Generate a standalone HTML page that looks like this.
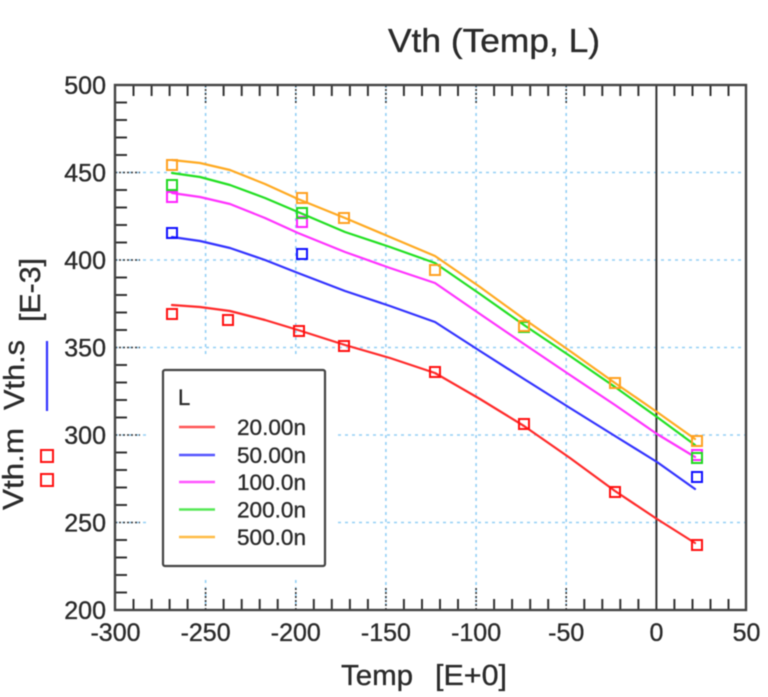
<!DOCTYPE html>
<html><head><meta charset="utf-8"><style>
html,body{margin:0;padding:0;background:#fff;}
svg{display:block;filter:blur(0.5px);}
text{font-family:"Liberation Sans",Arial,sans-serif;fill:#2a2a2a;stroke:#2a2a2a;stroke-width:0.35px;}
</style></head><body>
<svg width="768" height="697" viewBox="0 0 768 697" xmlns="http://www.w3.org/2000/svg">
<rect width="768" height="697" fill="#fff"/>
<text x="494" y="52" font-size="33" text-anchor="middle" textLength="212" lengthAdjust="spacingAndGlyphs">Vth (Temp, L)</text>
<g stroke="#93cff5" stroke-width="1.6" stroke-dasharray="3 4" fill="none">
<path d="M205.6 85V357M205.6 580V610M295.8 85V357M295.8 580V610M385.9 85V610M476.1 85V610M566.2 85V610"/>
<path d="M115 172.5H746M115 260H746M115 347.5H746M115 435H150M338 435H746M115 522.5H150M338 522.5H746"/>
</g>
<g stroke="#333" stroke-width="1.6" stroke-dasharray="2 2" fill="none">
<path d="M115 172.5H140M115 260H140M115 347.5H140M115 435H140M115 522.5H140"/>
<path d="M205.6 85V105M295.8 85V105M385.9 85V105M476.1 85V105M566.2 85V105"/>
<path d="M205.6 610V588M295.8 610V588M385.9 610V588M476.1 610V588M566.2 610V588"/>
</g>
<g stroke="#333" stroke-width="2" fill="none">
<path d="M115 102.5h12M115 120h12M115 137.5h12M115 155h12M115 190h12M115 207.5h12M115 225h12M115 242.5h12M115 277.5h12M115 295h12M115 312.5h12M115 330h12M115 365h12M115 382.5h12M115 400h12M115 417.5h12M115 452.5h12M115 470h12M115 487.5h12M115 505h12M115 540h12M115 557.5h12M115 575h12M115 592.5h12"/>
<path d="M133.5 85v11M151.6 85v11M169.6 85v11M187.6 85v11M223.6 85v11M241.7 85v11M259.7 85v11M277.7 85v11M313.8 85v11M331.8 85v11M349.9 85v11M367.9 85v11M403.9 85v11M422 85v11M440 85v11M458 85v11M494.1 85v11M512.1 85v11M530.2 85v11M548.2 85v11M584.3 85v11M602.3 85v11M620.3 85v11M638.4 85v11M674.4 85v11M692.5 85v11M710.5 85v11M728.5 85v11"/>
<path d="M133.5 610v-11M151.6 610v-11M169.6 610v-11M187.6 610v-11M223.6 610v-11M241.7 610v-11M259.7 610v-11M277.7 610v-11M313.8 610v-11M331.8 610v-11M349.9 610v-11M367.9 610v-11M403.9 610v-11M422 610v-11M440 610v-11M458 610v-11M494.1 610v-11M512.1 610v-11M530.2 610v-11M548.2 610v-11M584.3 610v-11M602.3 610v-11M620.3 610v-11M638.4 610v-11M674.4 610v-11M692.5 610v-11M710.5 610v-11M728.5 610v-11"/>
</g>
<line x1="656.4" y1="85" x2="656.4" y2="610" stroke="#333" stroke-width="2"/>
<rect x="115" y="85" width="631" height="525" fill="none" stroke="#444" stroke-width="2.4"/>
<g fill="none" stroke-width="2.2" stroke-linejoin="round" stroke-linecap="round">
<polyline stroke="#ff2a2a" points="172,305 200,307 230,311 265,320 298,330 345,345 390,358 435,373 480,399 524,426 570,458 615,491 657,519 695,543"/>
<polyline stroke="#3333ff" points="172,237 200,241 230,248 265,260 298,273 345,291 390,306 435,322 480,351 524,379 570,408 615,436 657,462 695,489"/>
<polyline stroke="#ff33ff" points="172,193 200,197 230,204 265,218 298,233 345,252 390,268 435,283 480,314 524,344 570,375 615,405 657,434 695,457"/>
<polyline stroke="#22e022" points="172,173 200,177 230,185 265,198 298,212 345,232 390,247 435,263 480,294 524,325 570,356 615,387 657,417 695,445"/>
<polyline stroke="#ffaa22" points="172,160 200,163 230,170 265,184 298,199 345,218 390,237 435,256 480,287 524,319 570,351 615,383 657,412 695,439"/>
</g>
<g fill="none" stroke-width="2">
<g stroke="#ff1010">
<rect x="167" y="309" width="10" height="10"/><rect x="223" y="315" width="10" height="10"/><rect x="294" y="326" width="10" height="10"/><rect x="339" y="341" width="10" height="10"/><rect x="430" y="367" width="10" height="10"/><rect x="519" y="419" width="10" height="10"/><rect x="610" y="487" width="10" height="10"/><rect x="692" y="540" width="10" height="10"/>
</g>
<g stroke="#1010ff">
<rect x="167" y="228" width="10" height="10"/><rect x="297" y="249" width="10" height="10"/><rect x="692" y="472" width="10" height="10"/>
</g>
<g stroke="#ff22ff">
<rect x="167" y="192" width="10" height="10"/><rect x="297" y="217" width="10" height="10"/><rect x="692" y="450" width="10" height="10"/>
</g>
<g stroke="#20d820">
<rect x="167" y="180" width="10" height="10"/><rect x="297" y="208" width="10" height="10"/><rect x="519" y="322" width="10" height="10"/><rect x="692" y="453" width="10" height="10"/>
</g>
<g stroke="#ffa020">
<rect x="167" y="160" width="10" height="10"/><rect x="297" y="193" width="10" height="10"/><rect x="339" y="213" width="10" height="10"/><rect x="430" y="265" width="10" height="10"/><rect x="519" y="321" width="10" height="10"/><rect x="610" y="378" width="10" height="10"/><rect x="692" y="436" width="10" height="10"/>
</g>
</g>
<rect x="163" y="370" width="162" height="196" rx="2" fill="#fff" stroke="#444" stroke-width="2.2"/>
<text x="178" y="405" font-size="22">L</text>
<g stroke-width="2.5">
<line x1="179" y1="427" x2="215" y2="427" stroke="#ff5555"/>
<line x1="179" y1="455" x2="215" y2="455" stroke="#5555ff"/>
<line x1="179" y1="482" x2="215" y2="482" stroke="#ff55ff"/>
<line x1="179" y1="509.5" x2="215" y2="509.5" stroke="#55e855"/>
<line x1="179" y1="537" x2="215" y2="537" stroke="#ffbb44"/>
</g>
<g font-size="22.5">
<text x="237" y="435" textLength="69" lengthAdjust="spacingAndGlyphs">20.00n</text>
<text x="237" y="463" textLength="69" lengthAdjust="spacingAndGlyphs">50.00n</text>
<text x="237" y="490" textLength="69" lengthAdjust="spacingAndGlyphs">100.0n</text>
<text x="237" y="517.5" textLength="69" lengthAdjust="spacingAndGlyphs">200.0n</text>
<text x="237" y="545" textLength="69" lengthAdjust="spacingAndGlyphs">500.0n</text>
</g>
<g font-size="25" text-anchor="end">
<text x="106" y="94">500</text>
<text x="106" y="181.5">450</text>
<text x="106" y="269">400</text>
<text x="106" y="356.5">350</text>
<text x="106" y="444">300</text>
<text x="106" y="531.5">250</text>
<text x="106" y="619">200</text>
</g>
<g font-size="25" text-anchor="middle">
<text x="115.5" y="641">-300</text>
<text x="205.6" y="641">-250</text>
<text x="295.8" y="641">-200</text>
<text x="385.9" y="641">-150</text>
<text x="476.1" y="641">-100</text>
<text x="566.2" y="641">-50</text>
<text x="656.4" y="641">0</text>
<text x="746.5" y="641">50</text>
</g>
<text x="341" y="685" font-size="29" textLength="72" lengthAdjust="spacingAndGlyphs">Temp</text>
<text x="435" y="685" font-size="29" textLength="72" lengthAdjust="spacingAndGlyphs">[E+0]</text>
<text transform="translate(23,510) rotate(-90)" font-size="29" textLength="82" lengthAdjust="spacingAndGlyphs">Vth.m</text>
<text transform="translate(24,410) rotate(-90)" font-size="29" textLength="70" lengthAdjust="spacingAndGlyphs">Vth.s</text>
<text transform="translate(40,322) rotate(-90)" font-size="29" textLength="64" lengthAdjust="spacingAndGlyphs">[E-3]</text>
<g fill="none" stroke="#ff1010" stroke-width="2">
<rect x="41" y="450" width="12" height="12"/>
<rect x="41" y="474" width="12" height="12"/>
</g>
<line x1="47" y1="341" x2="47" y2="411" stroke="#3333ff" stroke-width="2.2"/>
</svg>
</body></html>
